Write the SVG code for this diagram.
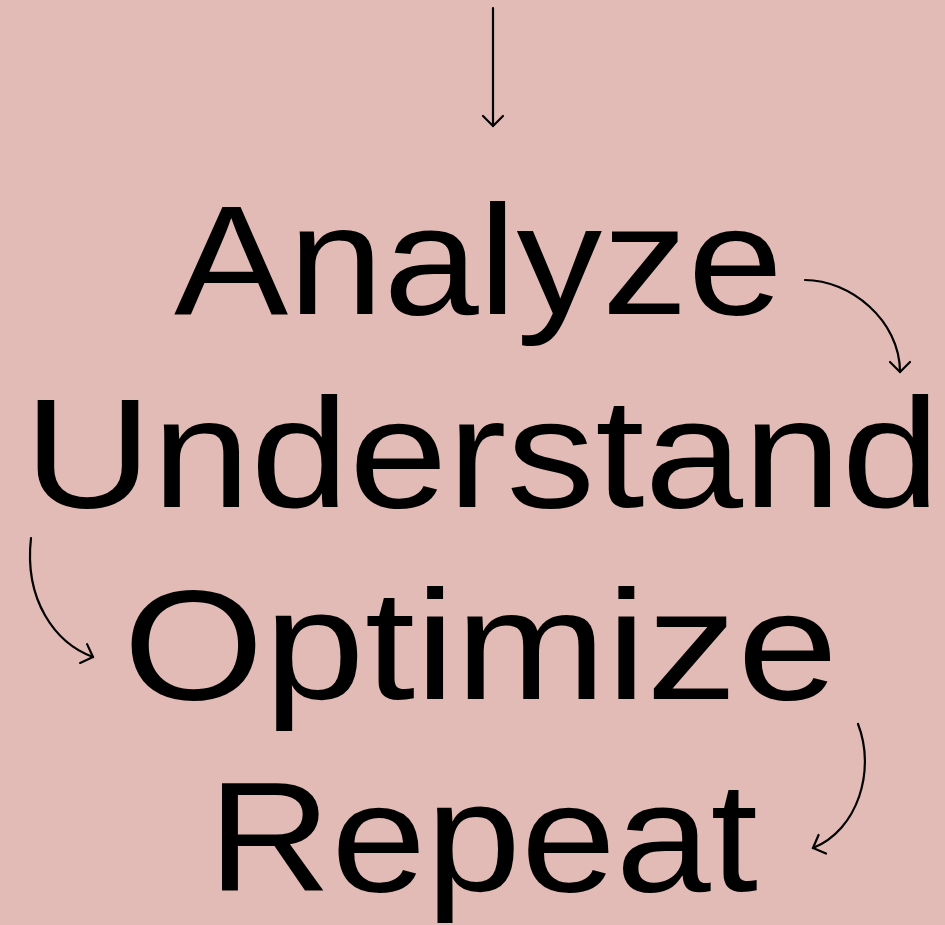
<svg xmlns="http://www.w3.org/2000/svg" width="945" height="925" viewBox="0 0 945 925">
<style>
.word{font-family:"Liberation Sans","Noto Sans",Arial,sans-serif;font-size:156px;fill:#000}
.conn{fill:none;stroke:#000;stroke-width:2.2;stroke-linecap:round}
</style>
<defs>
<marker id="chev" viewBox="-12 -12 14 24" refX="0" refY="0" markerWidth="14" markerHeight="24" markerUnits="userSpaceOnUse" orient="auto" overflow="visible">
<path d="M-10,-10 L0,0 L-10,10" fill="none" stroke="#000" stroke-width="2.2" stroke-linecap="round" stroke-linejoin="miter"/>
</marker>
</defs>
<rect width="945" height="925" fill="#E3BBB6"/>
<g id="node-analyze"><text class="word" x="174" y="314" textLength="609" lengthAdjust="spacingAndGlyphs">Analyze</text></g>
<g id="node-understand"><text class="word" x="24" y="507" textLength="916" lengthAdjust="spacingAndGlyphs">Understand</text></g>
<g id="node-optimize"><text class="word" x="123" y="699" textLength="715" lengthAdjust="spacingAndGlyphs">Optimize</text></g>
<g id="node-repeat"><text class="word" x="208" y="891" textLength="550" lengthAdjust="spacingAndGlyphs">Repeat</text></g>
<g id="connectors">
<path class="conn" d="M493,8 L493,126" marker-end="url(#chev)"/>
<path class="conn" d="M805,280 C850,280 900,320 900,372" marker-end="url(#chev)"/>
<path class="conn" d="M31,538 C24,600 55,643 93,657" marker-end="url(#chev)"/>
<path class="conn" d="M858,724 C876,770 858,830 813,848" marker-end="url(#chev)"/>
</g>
</svg>
